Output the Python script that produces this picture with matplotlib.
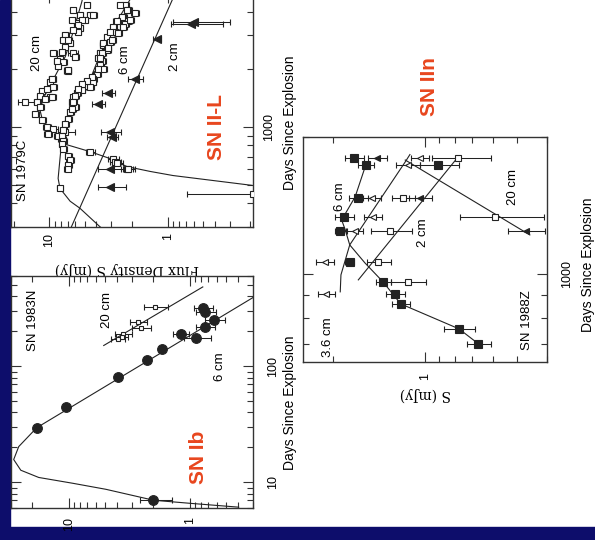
import matplotlib.pyplot as plt
import numpy as np
from matplotlib.ticker import LogLocator, FuncFormatter, NullFormatter
from matplotlib.patches import Rectangle

plt.rcParams['font.family'] = ['Liberation Sans', 'DejaVu Sans']

W, H = 595, 540
RED = '#e8461e'
NAVY = '#0d0d6b'
INK = '#222222'

# ---------------- SN 1979C (SN II-L) ----------------
c79_20_days = [4335, 3850, 3626, 3500, 3300, 3140, 2754, 2624, 2445, 2445, 2249, 2171,
               2069, 1950, 1773, 1710, 1610, 1537, 1448, 1430, 1348, 1348, 1270, 1168,
               1087, 1000, 976, 920, 898, 942, 867, 742, 683, 659, 651, 606, 600,
               4087, 3850, 3850, 3626, 3626, 3416, 3217, 3029, 2853, 2853, 2470, 2330,
               2200, 1970, 1773, 1574, 1430, 1397]
c79_20_flux = [4.8, 4.5, 5.0, 5.8, 5.5, 5.7, 6.65, 7.3, 9.2, 6.3, 8.1, 7.6,
               8.4, 7.0, 9.4, 9.8, 9.2, 11.5, 11.9, 9.8, 15.9, 12.6, 11.9, 13.1,
               11.5, 10.4, 9.2, 10.2, 8.4, 7.3, 7.8, 4.5, 2.88, 2.77, 2.66, 2.2, 2.15,
               6.27, 5.5, 4.25, 6.4, 5.26, 5.7, 6.27, 7.3, 7.6, 6.9, 7.8, 6.0,
               8.6, 7.0, 9.4, 10.4, 9.4, 10.8]
c79_20_err = [0.3, 0.3, 0.3, 0.35, 0.35, 0.35, 0.4, 0.4, 0.6, 0.6, 0.5, 0.5,
              0.5, 0.5, 0.6, 0.6, 0.6, 0.7, 0.7, 0.7, 2.5, 0.8, 0.8, 0.8,
              0.8, 0.8, 0.7, 0.8, 0.7, 1.2, 0.6, 0.4, 0.3, 0.3, 0.3, 0.25, 0.25,
              0.35, 0.35, 0.3, 0.4, 0.35, 0.35, 0.4, 0.45, 0.5, 0.45, 0.5, 0.4,
              0.55, 0.45, 0.6, 0.7, 0.6, 0.7]
c79_lim_days = [444]
c79_lim_flux = [0.19]
c79_lim_err = [[0.0], [0.5]]

c79_6_days = [4335, 4087, 3920, 3760, 3590, 3460, 3330, 3140, 2956, 2790, 2688, 2533,
              2445, 2300, 2200, 2094, 1997, 1883, 1773, 1710, 1631, 1610, 1555, 1500,
              1430, 1348, 1270, 1196, 1100, 1036, 965, 898, 846, 817, 769, 708, 675,
              636, 606, 477,
              4335, 4087, 3760, 3626, 3560, 3334, 3140, 3104, 2853, 2754, 2578, 2445,
              2300, 1997, 1817, 1731, 1671, 1574, 1448, 1348, 1240]
c79_6_flux = [2.28, 2.15, 1.88, 2.37, 2.15, 2.28, 2.88, 2.77, 3.24, 3.06, 3.5, 3.24,
              3.7, 3.86, 3.56, 3.7, 3.5, 3.94, 4.25, 4.3, 5.0, 4.5, 5.3, 5.8,
              6.3, 6.4, 6.0, 6.65, 6.9, 7.3, 7.6, 7.8, 7.6, 7.8, 7.6, 6.9, 6.65,
              6.9, 7.0, 8.1,
              2.52, 2.19, 2.42, 2.07, 2.67, 2.37, 3.06, 2.62, 2.94, 3.5, 3.18, 3.56,
              3.7, 3.86, 4.34, 4.78, 5.26, 5.7, 6.0, 6.27, 6.4]
c79_6_err = [0.15, 0.15, 0.15, 0.15, 0.15, 0.15, 0.2, 0.2, 0.2, 0.2, 0.25, 0.25,
             0.25, 0.25, 0.25, 0.25, 0.25, 0.3, 0.3, 0.3, 0.35, 0.35, 0.35, 0.4,
             0.4, 0.4, 0.4, 0.45, 0.45, 0.5, 0.5, 0.5, 0.5, 0.5, 0.5, 0.5, 0.5,
             0.5, 0.5, 0.5,
             0.15, 0.15, 0.15, 0.15, 0.2, 0.15, 0.2, 0.2, 0.2, 0.25, 0.2, 0.25,
             0.25, 0.25, 0.3, 0.3, 0.35, 0.4, 0.4, 0.4, 0.45]

c79_2_days = [3540, 3450, 2891, 1773, 1500, 1316, 942, 888, 599, 483]
c79_2_flux = [0.60, 0.64, 1.23, 1.88, 3.18, 3.86, 3.06, 2.94, 3.06, 3.06]
c79_2_err = [0.3, 0.3, 0.1, 0.27, 0.4, 0.5, 0.6, 0.3, 0.8, 0.8]

c79_fit20_days = [5000, 4500, 3104, 2330, 1773, 1397, 1210, 1062, 920, 817, 742, 683,
                  620, 585, 557, 495]
c79_fit20_flux = [5.1, 5.3, 6.3, 7.3, 9.2, 11.3, 11.9, 11.3, 8.5, 7.6, 4.5, 3.06,
                  2.2, 1.4, 0.9, 0.194]
c79_fit6_days = [4800, 3104, 2249, 1773, 1448, 1240, 1012, 867, 683, 538, 477, 409,
                 376, 307, 300]
c79_fit6_flux = [2.0, 3.06, 3.86, 4.5, 5.8, 6.65, 7.6, 7.8, 8.1, 8.4, 8.1, 6.65,
                 5.5, 3.86, 3.7]
c79_fit2_days = [300, 5000]
c79_fit2_flux = [6.5, 0.86]

# ---------------- SN 1983N (SN Ib) ----------------
c83_6_days = [7.0, 29.5, 44.6, 80.5, 114, 140, 191, 177, 218, 252, 319, 295]
c83_6_flux = [2.0, 18.4, 10.6, 3.94, 2.27, 1.70, 1.19, 0.89, 0.75, 0.63, 0.78, 0.75]
c83_6_err = [0.6, 0, 0, 0, 0, 0, 0.18, 0.22, 0.13, 0.12, 0.14, 0.14]

c83_20_days = [326, 243, 215, 191, 173, 180]
c83_20_flux = [1.95, 2.69, 2.54, 3.58, 3.94, 3.65]
c83_20_err = [0.45, 0.45, 0.45, 0.6, 0.5, 0.4]

c83_fit6_days = [6.1, 6.6, 7.0, 8.7, 9.8, 11.0, 12.7, 15.7, 20.3, 29.5, 404, 600]
c83_fit6_flux = [0.394, 1.02, 1.99, 4.94, 9.25, 17.7, 24.9, 28.5, 25.9, 18.4, 0.285, 0.158]
c83_fit20_days = [151, 483]
c83_fit20_flux = [5.14, 0.78]

# ---------------- SN 1988Z (SN IIn) ----------------
c88_6_days = [1798, 1736, 1736, 1469, 1335, 1243, 1063, 960, 904, 859, 757, 702]
c88_6_flux = [1.70, 1.56, 0.907, 1.65, 1.84, 1.89, 1.76, 1.37, 1.25, 1.20, 0.775, 0.67]
c88_6_err = [0.12, 0.09, 0.13, 0.12, 0.13, 0.08, 0.06, 0.08, 0.09, 0.08, 0.09, 0.06]

c88_36_days = [1798, 1736, 1469, 1335, 1243, 1063, 904]
c88_36_flux = [1.04, 1.14, 1.49, 1.48, 1.69, 2.12, 2.10]
c88_36_err = [0.07, 0.1, 0.1, 0.1, 0.1, 0.14, 0.14]

c88_2_days = [1798, 1469, 1335, 1243, 1063, 960]
c88_2_flux = [0.78, 1.18, 0.59, 1.30, 1.42, 1.14]
c88_2_err = [0.17, 0.1, 0.18, 0.2, 0.13, 0.15]

c88_20_days = [1798, 1469, 1243]
c88_20_flux = [1.43, 1.04, 0.47]
c88_20_err = [0.1, 0.09, 0.065]

c88_fit6_days = [702, 757, 859, 960, 1057, 1158, 1249, 1314, 1477, 1736]
c88_fit6_flux = [0.67, 0.775, 1.20, 1.37, 1.57, 1.76, 1.82, 1.87, 1.69, 1.56]
c88_fit36_days = [913, 995, 1158, 1763, 1830]
c88_fit36_flux = [1.89, 1.88, 1.76, 1.16, 1.12]
c88_fit2_days = [970, 1808]
c88_fit2_flux = [1.65, 0.78]
c88_fit20_days = [1780, 1218]
c88_fit20_flux = [1.16, 0.455]


def frame(ax, flux_lim, day_lim, xpad, ypad):
    ax.set_xscale('log')
    ax.set_yscale('log')
    ax.set_xlim(flux_lim)
    ax.set_ylim(day_lim)
    for axis in (ax.xaxis, ax.yaxis):
        axis.set_major_locator(LogLocator(base=10))
        axis.set_minor_locator(LogLocator(base=10, subs=np.arange(2, 10)))
        axis.set_major_formatter(FuncFormatter(lambda v, p: f'{v:g}'))
        axis.set_minor_formatter(NullFormatter())
    ax.tick_params(which='both', direction='in', top=True, bottom=True, left=True,
                   right=True, labelleft=False, labelright=True, width=0.8,
                   color='#333333', labelsize=9)
    ax.tick_params(which='major', length=7)
    ax.tick_params(which='minor', length=4)
    ax.tick_params(axis='x', labelrotation=90, pad=xpad)
    ax.tick_params(axis='y', labelrotation=90, pad=ypad)
    plt.setp(ax.get_yticklabels(), va='center')
    for s in ax.spines.values():
        s.set_linewidth(1.0)
        s.set_color('#333333')


def points(ax, flux, days, err, marker, filled, ms, cap=2):
    ax.errorbar(flux, days, xerr=err, fmt=marker, ms=ms,
                mfc=INK if filled else 'white', mec=INK, mew=0.8,
                ecolor=INK, elinewidth=0.75, capsize=cap, capthick=0.75, zorder=3)


def label(ax, x, y, s, **kw):
    ax.text(x, y, s, transform=ax.transAxes, rotation=90, ha='center', va='center', **kw)


fig = plt.figure(figsize=(W / 100, H / 100), dpi=100)
fig.patches.append(Rectangle((0, 0), 10 / W, 1, transform=fig.transFigure,
                             color=NAVY, zorder=-5))
fig.patches.append(Rectangle((0, 0), 1, 13 / H, transform=fig.transFigure,
                             color=NAVY, zorder=-5))

# SN 1979C
ax79 = fig.add_axes([11 / W, 1 - 227 / H, 242 / W, 234 / H])
ax79.plot(c79_fit20_flux, c79_fit20_days, color=INK, lw=0.8)
ax79.plot(c79_fit6_flux, c79_fit6_days, color=INK, lw=0.8)
ax79.plot(c79_fit2_flux, c79_fit2_days, color=INK, lw=0.8)
points(ax79, c79_20_flux, c79_20_days, c79_20_err, 's', False, 4.2, 2.3)
points(ax79, c79_lim_flux, c79_lim_days, c79_lim_err, 's', False, 4.2, 2.3)
points(ax79, c79_6_flux, c79_6_days, c79_6_err, 's', False, 4.2, 2.3)
points(ax79, c79_2_flux, c79_2_days, c79_2_err, '<', True, 5.5)
frame(ax79, (21, 0.19), (300, 5000), 4, 7)
ax79.set_xlabel('Flux Density S (mJy)', rotation=180, family='DejaVu Serif', fontsize=10)
ax79.xaxis.set_label_coords(0.48, -0.15)
ax79.yaxis.set_label_position('right')
ax79.set_ylabel('Days Since Explosion', rotation=90, fontsize=10, va='center')
ax79.yaxis.set_label_coords(1.153, 0.444)
label(ax79, 0.05, 0.244, 'SN 1979C', fontsize=9.5)
label(ax79, 0.107, 0.744, '20 cm', fontsize=9.5)
label(ax79, 0.471, 0.714, '6 cm', fontsize=9.5)
label(ax79, 0.678, 0.726, '2 cm', fontsize=9.5)
label(ax79, 0.851, 0.427, 'SN II-L', fontsize=15, fontweight='bold', color=RED)

# SN 1983N
ax83 = fig.add_axes([11 / W, 1 - 508 / H, 242 / W, 232 / H])
ax83.plot(c83_fit6_flux, c83_fit6_days, color=INK, lw=0.8)
ax83.plot(c83_fit20_flux, c83_fit20_days, color=INK, lw=0.8)
points(ax83, c83_20_flux, c83_20_days, c83_20_err, 's', False, 2.5)
points(ax83, c83_6_flux, c83_6_days, c83_6_err, 'o', True, 7)
frame(ax83, (30, 0.3), (6, 600), 6.5, 10)
ax83.yaxis.set_label_position('right')
ax83.set_ylabel('Days Since Explosion', rotation=90, fontsize=10, va='center')
ax83.yaxis.set_label_coords(1.153, 0.453)
label(ax83, 0.091, 0.81, 'SN 1983N', fontsize=9.5)
label(ax83, 0.397, 0.853, '20 cm', fontsize=9.5)
label(ax83, 0.864, 0.608, '6 cm', fontsize=9.5)
label(ax83, 0.773, 0.22, 'SN Ib', fontsize=15, fontweight='bold', color=RED)

# SN 1988Z
ax88 = fig.add_axes([303 / W, 1 - 362 / H, 244 / W, 225 / H])
ax88.plot(c88_fit6_flux, c88_fit6_days, color=INK, lw=0.8)
ax88.plot(c88_fit36_flux, c88_fit36_days, color=INK, lw=0.8)
ax88.plot(c88_fit2_flux, c88_fit2_days, color=INK, lw=0.8)
ax88.plot(c88_fit20_flux, c88_fit20_days, color=INK, lw=0.8)
points(ax88, c88_36_flux, c88_36_days, c88_36_err, '<', False, 4.5)
points(ax88, c88_2_flux, c88_2_days, c88_2_err, 's', False, 4)
points(ax88, c88_20_flux, c88_20_days, c88_20_err, '<', True, 5)
points(ax88, c88_6_flux, c88_6_days, c88_6_err, 's', True, 5.5)
frame(ax88, (2.5, 0.4), (640, 2000), 8, 10)
ax88.set_xlabel('S (mJy)', rotation=180, family='DejaVu Serif', fontsize=10)
ax88.xaxis.set_label_coords(0.5, -0.11)
ax88.yaxis.set_label_position('right')
ax88.set_ylabel('Days Since Explosion', rotation=90, fontsize=10, va='center')
ax88.yaxis.set_label_coords(1.168, 0.431)
label(ax88, 0.152, 0.733, '6 cm', fontsize=9.5)
label(ax88, 0.492, 0.573, '2 cm', fontsize=9.5)
label(ax88, 0.861, 0.778, '20 cm', fontsize=9.5)
label(ax88, 0.102, 0.111, '3.6 cm', fontsize=9.5)
label(ax88, 0.918, 0.187, 'SN 1988Z', fontsize=9.5)
label(ax88, 0.52, 1.222, 'SN IIn', fontsize=15, fontweight='bold', color=RED)

fig.savefig('out.png', dpi=100)
